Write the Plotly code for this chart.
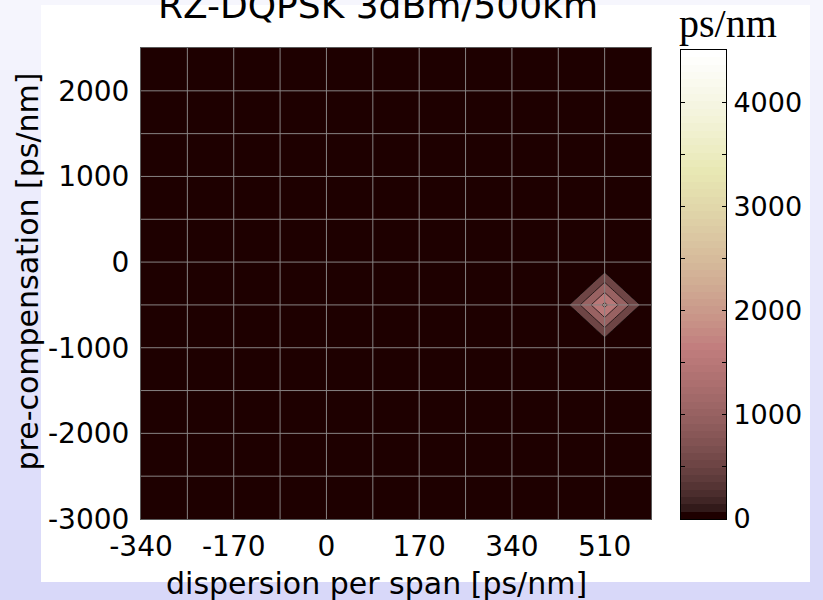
import math
import plotly.graph_objects as go

# ---- data -------------------------------------------------------------
dispersion = [-340, -255, -170, -85, 0, 85, 170, 255, 340, 425, 510, 595]
precomp = [-3000, -2500, -2000, -1500, -1000, -500, 0, 500, 1000, 1500, 2000, 2500]
# rows follow precomp (bottom to top), columns follow dispersion
z_values = [
    [0, 0, 0, 0, 0, 0, 0, 0, 0, 0, 0, 0],
    [0, 0, 0, 0, 0, 0, 0, 0, 0, 0, 0, 0],
    [0, 0, 0, 0, 0, 0, 0, 0, 0, 0, 0, 0],
    [0, 0, 0, 0, 0, 0, 0, 0, 0, 0, 0, 0],
    [0, 0, 0, 0, 0, 0, 0, 0, 0, 0, 0, 0],
    [0, 0, 0, 0, 0, 0, 0, 0, 0, 0, 2120, 0],
    [0, 0, 0, 0, 0, 0, 0, 0, 0, 0, 0, 0],
    [0, 0, 0, 0, 0, 0, 0, 0, 0, 0, 0, 0],
    [0, 0, 0, 0, 0, 0, 0, 0, 0, 0, 0, 0],
    [0, 0, 0, 0, 0, 0, 0, 0, 0, 0, 0, 0],
    [0, 0, 0, 0, 0, 0, 0, 0, 0, 0, 0, 0],
    [0, 0, 0, 0, 0, 0, 0, 0, 0, 0, 0, 0],
]
x_ticks = [-340, -170, 0, 170, 340, 510]
y_ticks = [-3000, -2000, -1000, 0, 1000, 2000]
x_grid_step = 85
y_grid_step = 500
level_start, level_end, level_step = 500, 2000, 500
cbar_min, cbar_max = 0, 4500
cbar_labels = [0, 1000, 2000, 3000, 4000]
cbar_minor_step = 500

title_text = "RZ-DQPSK 3dBm/500km"
x_title = "dispersion per span [ps/nm]"
y_title = "pre-compensation [ps/nm]"
cbar_title = "ps/nm"

# ---- 64-entry "pink" colormap -----------------------------------------
M = 64
N = int(3 * M / 8)
def pink_map():
    cols = []
    for i in range(M):
        g = i / (M - 1)
        hr = (i + 1) / N if i < N else 1.0
        hg = 0.0 if i < N else ((i - N + 1) / N if i < 2 * N else 1.0)
        hb = 0.0 if i < 2 * N else (i - 2 * N + 1) / (M - 2 * N)
        rgb = [math.sqrt((2 * g + h) / 3) for h in (hr, hg, hb)]
        cols.append("rgb(%d,%d,%d)" % tuple(round(255 * c) for c in rgb))
    return cols

PINK = pink_map()

def cmap_index(v):
    return min(M - 1, int((v - cbar_min) / (cbar_max - cbar_min) * M))

# stepped colorscale for the filled contour bands
levels = list(range(level_start, level_end + 1, level_step))
band_colors = [PINK[cmap_index(cbar_min)]] + [PINK[cmap_index(l)] for l in levels]
nb = len(band_colors)
contour_scale = []
for k, c in enumerate(band_colors):
    lo = max(0.0, (k - 0.5) / (nb - 1))
    hi = min(1.0, (k + 0.5) / (nb - 1))
    contour_scale += [[lo, c], [hi, c]]

# ---- layout geometry (pixels) ------------------------------------------
W, H = 823, 600
ML, MR, MT, MB = 141, 97, 48, 81
PW, PH = W - ML - MR, H - MT - MB

def fx(px):
    return (px - ML) / PW

def fy(py):
    return (H - MB - py) / PH

fig = go.Figure()

fig.add_trace(go.Contour(
    x=dispersion, y=precomp, z=z_values,
    colorscale=contour_scale, showscale=False,
    contours=dict(start=level_start, end=level_end, size=level_step, coloring="fill"),
    line=dict(color="black", width=0.7, smoothing=0),
    xaxis="x", yaxis="y", hoverinfo="skip",
))

# colour bar drawn as a one-column heatmap on its own axes
bin_h = (cbar_max - cbar_min) / M
fig.add_trace(go.Heatmap(
    x=[0], y=[cbar_min + (k + 0.5) * bin_h for k in range(M)],
    z=[[k] for k in range(M)], zmin=0, zmax=M - 1,
    colorscale=[[k / (M - 1), PINK[k]] for k in range(M)],
    showscale=False, xaxis="x2", yaxis="y2", hoverinfo="skip",
))

# ---- background: lavender gradient with a white panel -----------------
shapes = []
top_c, bot_c = (246, 246, 253), (216, 216, 249)
n_str = 60
for i in range(n_str):
    t = (i + 0.5) / n_str
    c = tuple(round(a + (b - a) * t) for a, b in zip(top_c, bot_c))
    y0 = i * H / n_str
    y1 = (i + 1) * H / n_str + 0.5
    shapes.append(dict(type="rect", xref="paper", yref="paper", layer="below",
                       x0=fx(0), x1=fx(W), y0=fy(y1), y1=fy(y0),
                       line=dict(width=0), fillcolor="rgb(%d,%d,%d)" % c))
shapes.append(dict(type="rect", xref="paper", yref="paper", layer="below",
                   x0=fx(41), x1=fx(810), y0=fy(582), y1=fy(5),
                   line=dict(width=0), fillcolor="white"))

# grid lines on top of the filled contours
xg = dispersion[0] + x_grid_step
while xg < dispersion[-1]:
    shapes.append(dict(type="line", xref="x", yref="y", layer="above",
                       x0=xg, x1=xg, y0=precomp[0], y1=precomp[-1],
                       line=dict(color="#878282", width=1)))
    xg += x_grid_step
yg = precomp[0] + y_grid_step
while yg < precomp[-1]:
    shapes.append(dict(type="line", xref="x", yref="y", layer="above",
                       x0=dispersion[0], x1=dispersion[-1], y0=yg, y1=yg,
                       line=dict(color="#878282", width=1)))
    yg += y_grid_step

FONT = "DejaVu Sans"
annotations = [
    dict(text=title_text, xref="paper", yref="paper", x=fx(378), y=fy(5),
         xanchor="center", yanchor="middle", showarrow=False,
         font=dict(family=FONT, size=36, color="black")),
    dict(text=x_title, xref="paper", yref="paper", x=fx(376), y=fy(583.5),
         xanchor="center", yanchor="middle", showarrow=False,
         font=dict(family=FONT, size=30, color="black")),
    dict(text=y_title, xref="paper", yref="paper", x=fx(27), y=fy(271.5),
         xanchor="center", yanchor="middle", showarrow=False, textangle=-90,
         font=dict(family=FONT, size=30, color="black")),
    dict(text=cbar_title, xref="paper", yref="paper", x=fx(727.5), y=fy(23),
         xanchor="center", yanchor="middle", showarrow=False,
         font=dict(family="Liberation Serif", size=40, color="black")),
]

cb_ticks = list(range(cbar_min, cbar_max + 1, cbar_minor_step))
cb_text = [str(v) if v in cbar_labels else "" for v in cb_ticks]

fig.update_layout(
    width=W, height=H,
    margin=dict(l=ML, r=MR, t=MT, b=MB),
    paper_bgcolor="rgb(232,232,251)",
    plot_bgcolor="rgb(30,0,0)",
    showlegend=False,
    shapes=shapes,
    annotations=annotations,
    xaxis=dict(domain=[0, fx(651)], range=[dispersion[0], dispersion[-1]],
               tickvals=x_ticks, ticktext=[str(v) for v in x_ticks],
               showgrid=False, zeroline=False, ticks="",
               showline=True, mirror=True, linecolor="#5a5a5a", linewidth=1,
               tickfont=dict(family=FONT, size=28, color="black"),
               ticklabelstandoff=2, layer="above traces"),
    yaxis=dict(domain=[0, 1], range=[precomp[0], precomp[-1]],
               tickvals=y_ticks, ticktext=[str(v) for v in y_ticks],
               showgrid=False, zeroline=False, ticks="",
               showline=True, mirror=True, linecolor="#5a5a5a", linewidth=1,
               tickfont=dict(family=FONT, size=28, color="black"),
               ticklabelstandoff=5, layer="above traces"),
    xaxis2=dict(domain=[fx(681), fx(726)], range=[-0.5, 0.5], anchor="y2",
                showticklabels=False, ticks="", showgrid=False, zeroline=False,
                showline=True, mirror=True, linecolor="black", linewidth=1),
    yaxis2=dict(domain=[0, fy(50)], range=[cbar_min, cbar_max], anchor="x2",
                side="right", tickvals=cb_ticks, ticktext=cb_text,
                ticks="inside", ticklen=4, tickcolor="black", tickwidth=1,
                showgrid=False, zeroline=False,
                showline=True, mirror="ticks", linecolor="black", linewidth=1,
                tickfont=dict(family=FONT, size=27, color="black"),
                ticklabelstandoff=1),
)

fig.write_html("out.html")
